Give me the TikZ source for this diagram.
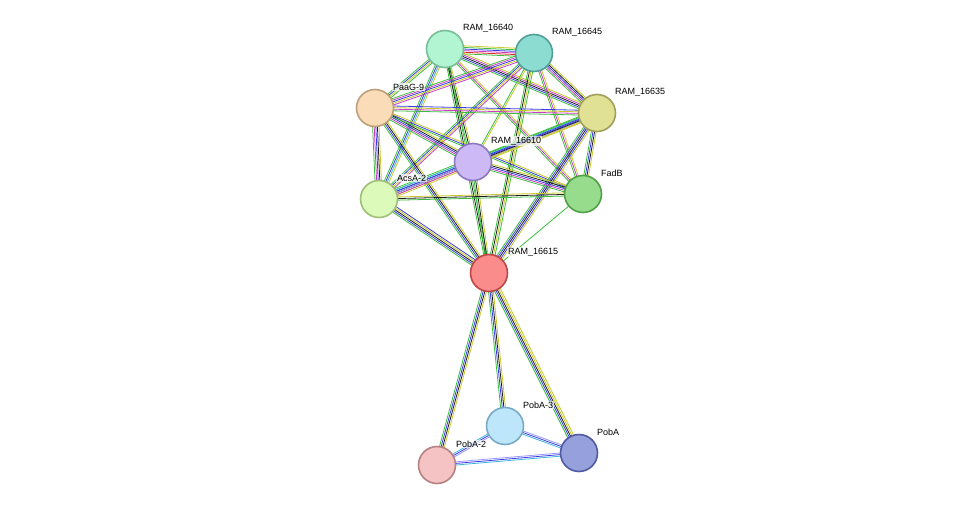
\documentclass[tikz,border=0pt]{standalone}
\usepackage{fontspec}
\setmainfont{Liberation Sans}
\usetikzlibrary{calc}
\definecolor{eg}{RGB}{60,190,60}
\definecolor{ey}{RGB}{200,200,40}
\definecolor{ek}{RGB}{30,30,30}
\definecolor{em}{RGB}{200,60,200}
\definecolor{eb}{RGB}{60,60,230}
\definecolor{ec}{RGB}{60,180,220}
\definecolor{el}{RGB}{150,150,255}
\definecolor{er}{RGB}{230,40,40}
\definecolor{f40}{HTML}{B2F5D2}\definecolor{d40}{HTML}{78BE96}
\definecolor{f45}{HTML}{8CDCD2}\definecolor{d45}{HTML}{50A096}
\definecolor{fpaag}{HTML}{FADCB9}\definecolor{dpaag}{HTML}{BEA078}
\definecolor{f35}{HTML}{E1E196}\definecolor{d35}{HTML}{A0A05A}
\definecolor{f10}{HTML}{CDB9F5}\definecolor{d10}{HTML}{8C78BE}
\definecolor{facsa}{HTML}{DCFAB9}\definecolor{dacsa}{HTML}{A0BE78}
\definecolor{ffadb}{HTML}{96DC8C}\definecolor{dfadb}{HTML}{50A046}
\definecolor{f15}{HTML}{FA8C8C}\definecolor{d15}{HTML}{BE4646}
\definecolor{fpoba3}{HTML}{BEE6FA}\definecolor{dpoba3}{HTML}{78AAC8}
\definecolor{fpoba}{HTML}{96A0DC}\definecolor{dpoba}{HTML}{505AA0}
\definecolor{fpoba2}{HTML}{F5C3C3}\definecolor{dpoba2}{HTML}{B48282}
\tikzset{
  prot/.style={circle, minimum size=37pt, inner sep=0pt, line width=1.6pt,
    fill=f#1, draw=d#1},
  lbl/.style={anchor=west, font=\fontsize{9}{10}\selectfont, inner sep=1pt, fill=white, fill opacity=0.7, text opacity=1}
}
% bundle of parallel evidence lines
\newcommand\lnk[4]{%
  \foreach \c [count=\i] in {#4}{
    \pgfmathsetmacro\o{(\i-(#3+1)/2)*1.6}
    \draw[\c, line width=0.8pt] ($(#1)!\o pt!90:(#2)$) -- ($(#2)!\o pt!-90:(#1)$);
  }}
\begin{document}
\begin{tikzpicture}[x=1pt, y=-1pt]
  \useasboundingbox (0,0) rectangle (976,511);
  \coordinate (r40) at (445,49);
  \coordinate (r45) at (534,53);
  \coordinate (paag) at (375,108);
  \coordinate (r35) at (597,113);
  \coordinate (r10) at (473,162);
  \coordinate (acsa) at (379,199);
  \coordinate (fadb) at (583,194);
  \coordinate (r15) at (489,273);
  \coordinate (poba3) at (505,426);
  \coordinate (poba) at (579,453);
  \coordinate (poba2) at (437,465);
  % edges
  \lnk{r40}{r45}{6}{eg,er,em,eb,eg,ey}
  \lnk{r40}{paag}{4}{eg,eb,ey,eg}
  \lnk{r40}{r35}{5}{eg,eb,ek,em,ey}
  \lnk{r40}{r10}{3}{eg,ek,ey}
  \lnk{r40}{acsa}{4}{eg,eb,ec,ey}
  \lnk{r40}{fadb}{3}{eg,em,ey}
  \lnk{r40}{r15}{3}{eg,ek,eg}
  \lnk{r45}{paag}{5}{eg,em,eb,ey,em}
  \lnk{r45}{r35}{5}{eg,em,eb,ek,ey}
  \lnk{r45}{r10}{2}{eg,ey}
  \lnk{r45}{acsa}{4}{eg,eb,ey,em}
  \lnk{r45}{fadb}{3}{eg,em,ey}
  \lnk{r45}{r15}{4}{eg,ek,ey,eg}
  \lnk{paag}{r35}{4}{eg,em,ey,eb}
  \lnk{paag}{r10}{5}{eg,em,eb,ek,ey}
  \lnk{paag}{acsa}{5}{eg,em,eb,ek,ey}
  \lnk{paag}{fadb}{3}{eg,eb,ey}
  \lnk{paag}{r15}{4}{eg,eb,ek,ey}
  \lnk{r35}{r10}{5}{eg,ec,eb,el,ey}
  \lnk{r35}{acsa}{4}{eg,eb,ek,ey}
  \lnk{r35}{fadb}{4}{eg,eb,ek,ey}
  \lnk{r35}{r15}{5}{eg,eb,ek,eb,ey}
  \lnk{r10}{acsa}{6}{eg,ec,eb,el,em,ey}
  \lnk{r10}{fadb}{5}{eg,em,eb,ek,ey}
  \lnk{r10}{r15}{3}{eg,ek,ey}
  \lnk{acsa}{fadb}{3}{eg,ek,ey}
  \lnk{acsa}{r15}{5}{eg,eb,ek,ey,eb}
  \lnk{fadb}{r15}{1}{eg}
  \lnk{r15}{poba3}{4}{eg,eb,ek,ey}
  \lnk{r15}{poba}{5}{eg,eb,ek,ey,ey}
  \lnk{r15}{poba2}{4}{eg,eb,ek,ey}
  \lnk{poba3}{poba}{3}{ec,eb,el}
  \lnk{poba3}{poba2}{3}{ec,eb,el}
  \lnk{poba2}{poba}{3}{ec,eb,el}
  % proteins
  \node[prot=40] (n40) at (r40) {};
  \node[prot=45] (n45) at (r45) {};
  \node[prot=paag] (npaag) at (paag) {};
  \node[prot=35] (n35) at (r35) {};
  \node[prot=10] (n10) at (r10) {};
  \node[prot=acsa] (nacsa) at (acsa) {};
  \node[prot=fadb] (nfadb) at (fadb) {};
  \node[prot=15] (n15) at (r15) {};
  \node[prot=poba3] (npoba3) at (poba3) {};
  \node[prot=poba] (npoba) at (poba) {};
  \node[prot=poba2] (npoba2) at (poba2) {};
  % labels
  \node[lbl] (t40) at ($(r40)+(17,-21)$) {RAM\_16640};
  \node[lbl] (t45) at ($(r45)+(17,-21)$) {RAM\_16645};
  \node[lbl] (tpaag) at ($(paag)+(17,-21)$) {PaaG-9};
  \node[lbl] (t35) at ($(r35)+(17,-21)$) {RAM\_16635};
  \node[lbl] (t10) at ($(r10)+(17,-21)$) {RAM\_16610};
  \node[lbl] (tacsa) at ($(acsa)+(17,-21)$) {AcsA-2};
  \node[lbl] (tfadb) at ($(fadb)+(17,-21)$) {FadB};
  \node[lbl] (t15) at ($(r15)+(18,-21)$) {RAM\_16615};
  \node[lbl] (tpoba3) at ($(poba3)+(17,-21)$) {PobA-3};
  \node[lbl] (tpoba) at ($(poba)+(17,-21)$) {PobA};
  \node[lbl] (tpoba2) at ($(poba2)+(18,-21)$) {PobA-2};
\end{tikzpicture}
\end{document}
